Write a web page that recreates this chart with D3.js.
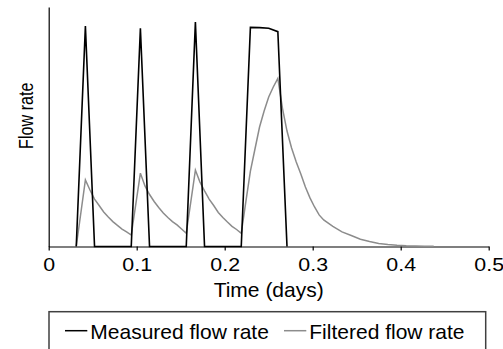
<!DOCTYPE html>
<html>
<head>
<meta charset="utf-8">
<script src="https://cdn.jsdelivr.net/npm/d3@7"></script>
<style>
  body { margin: 0; background: #fff; }
  svg { display: block; font-family: "Liberation Sans", Arial, sans-serif; }
</style>
</head>
<body>
<div id="chart"></div>
<script>
// measured flow, sampled every 15 min (days)
const measuredTime = [0.0313, 0.0417, 0.0521, 0.0938, 0.1042, 0.1146, 0.1563, 0.1667, 0.1771,
  0.2188, 0.2292, 0.2396, 0.25, 0.2604, 0.2708];
const measuredFlow = [0, 92.1, 0, 0, 91.1, 0, 0, 93.7, 0, 0, 91.5, 91.4, 91.1, 89.7, 0];

// filtered flow
const filteredTime = [0.0313, 0.0417, 0.0469, 0.0521, 0.0573, 0.0625, 0.0677, 0.0729, 0.0781, 0.0833, 0.0885, 0.0938,
  0.1042, 0.1094, 0.1146, 0.1198, 0.125, 0.1302, 0.1354, 0.1406, 0.1458, 0.151, 0.1563,
  0.1667, 0.1719, 0.1771, 0.1823, 0.1875, 0.1927, 0.1979, 0.2031, 0.2083, 0.2135, 0.2188,
  0.224, 0.2292, 0.2344, 0.2396, 0.2448, 0.25, 0.2552, 0.2604,
  0.2656, 0.2708, 0.276, 0.2813, 0.2865, 0.2917, 0.2969, 0.3021, 0.3073, 0.3125,
  0.3229, 0.3333, 0.3438, 0.3542, 0.3646, 0.375, 0.3854, 0.3958, 0.4063, 0.4167, 0.4271, 0.4375];
const filteredFlow = [0, 27.8, 23.6, 19.8, 17.1, 14.4, 12.3, 10.4, 8.8, 7.3, 6.1, 4.8,
  30.6, 25.3, 21.7, 18.8, 16.3, 14.0, 12.1, 10.4, 9.0, 7.3, 5.5,
  31.9, 26.9, 23.2, 19.8, 17.1, 14.2, 12.1, 10.2, 8.4, 7.1, 5.5,
  18.6, 31.5, 40.7, 49.9, 56.6, 62.4, 66.6, 70.2,
  57.8, 48.2, 41.1, 35.3, 30.3, 24.8, 20.3, 16.5, 13.2, 11.1,
  8.4, 6.1, 4.6, 3.0, 2.1, 1.3, 0.8, 0.5, 0.3, 0.2, 0.1, 0.1];

const xTicks = [0, 0.1, 0.2, 0.3, 0.4, 0.5];
const seriesNames = ["Measured flow rate", "Filtered flow rate"];
const seriesColors = ["#000000", "#8c8c8c"];

const width = 503, height = 349;
const svg = d3.select("#chart").append("svg").attr("width", width).attr("height", height);

const x = d3.scaleLinear().domain([0, 0.5]).range([48.7, 488.7]);
const y = d3.scaleLinear().domain([0, 100]).range([246.5, 7]);

// axes
const yAxis = svg.append("g").attr("transform", `translate(${x(0)},0)`)
  .call(d3.axisLeft(y).tickValues([]).tickSizeOuter(0));
yAxis.select(".domain").attr("stroke", "#000").attr("stroke-width", 1.2);

const xAxis = svg.append("g").attr("transform", `translate(0,${y(0)})`)
  .call(d3.axisBottom(x).tickValues(xTicks).tickSize(4).tickSizeOuter(0).tickFormat(d3.format("~g")));
xAxis.select(".domain").attr("stroke", "#000").attr("stroke-width", 1.2);
xAxis.selectAll(".tick line").attr("stroke", "#000").attr("stroke-width", 1.2);
xAxis.selectAll(".tick text")
  .attr("y", 24.2).attr("dy", 0)
  .attr("font-size", 18.6).attr("font-family", null)
  .attr("fill", "#000")
  .attr("transform", "scale(1.15,1)");

svg.append("text")
  .attr("x", x(0.25)).attr("y", 297.3)
  .attr("text-anchor", "middle").attr("font-size", 21)
  .text("Time (days)");

svg.append("text")
  .attr("transform", "translate(33,115.7) rotate(-90) scale(0.77,1)")
  .attr("text-anchor", "middle").attr("font-size", 21)
  .text("Flow rate");

// lines
const line = d3.line().x(d => x(d[0])).y(d => y(d[1]));

svg.append("path")
  .datum(filteredTime.map((t, i) => [t, filteredFlow[i]]))
  .attr("fill", "none").attr("stroke", seriesColors[1]).attr("stroke-width", 1.5)
  .attr("d", line);

svg.append("path")
  .datum(measuredTime.map((t, i) => [t, measuredFlow[i]]))
  .attr("fill", "none").attr("stroke", seriesColors[0]).attr("stroke-width", 1.6)
  .attr("stroke-linejoin", "miter")
  .attr("d", line);

// legend
const legend = svg.append("g");
legend.append("rect")
  .attr("x", 49).attr("y", 311.7).attr("width", 436.7).attr("height", 60)
  .attr("fill", "none").attr("stroke", "#404040").attr("stroke-width", 1.5);

const legendX = [65, 284];
seriesNames.forEach((name, i) => {
  legend.append("line")
    .attr("x1", legendX[i]).attr("x2", legendX[i] + 22.3)
    .attr("y1", 330.7).attr("y2", 330.7)
    .attr("stroke", seriesColors[i]).attr("stroke-width", 1.5);
  legend.append("text")
    .attr("x", legendX[i] + 25.3).attr("y", 339.3)
    .attr("font-size", 21)
    .text(name);
});
</script>
</body>
</html>
